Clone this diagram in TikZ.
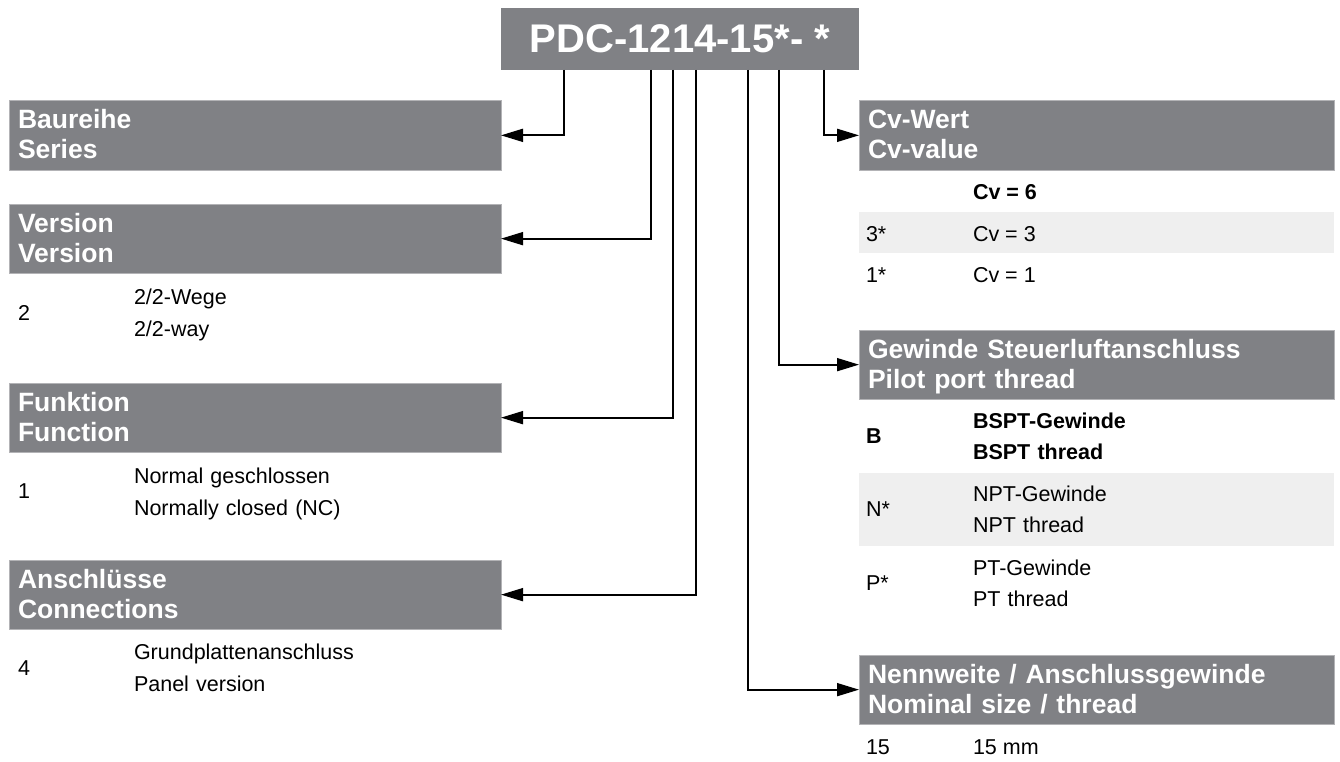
\documentclass[tikz,border=0pt]{standalone}
\usepackage{fontspec}
\setmainfont{Liberation Sans}
\usetikzlibrary{arrows.meta}

\definecolor{headgrey}{RGB}{128,129,133}
\definecolor{rowgrey}{RGB}{239,239,239}

\begin{document}
\begin{tikzpicture}[
    x=1pt, y=-1pt,
    every node/.style={inner sep=0pt, outer sep=0pt},
    title/.style={rectangle, fill=headgrey, text=white, minimum width=358pt, minimum height=62pt, anchor=north west, font=\fontsize{40}{40}\selectfont\bfseries},
    head/.style={rectangle, fill=headgrey, draw=headgrey!60!white, line width=0.8pt, anchor=north west, inner xsep=9pt, text width=#1, text height=28pt, text depth=41.3pt, align=left, text=white, font=\fontsize{26.5}{30}\selectfont\bfseries},
    code/.style={anchor=base west, font=\fontsize{21.5}{26}\selectfont},
    desc/.style={anchor=base west, text width=330pt, align=left, font=\fontsize{21.5}{#1}\selectfont},
    desc/.default=31pt,
    band/.style={fill=rowgrey},
    arrow/.style={-{Triangle[length=22pt, width=13pt]}, line width=1.7pt}
]
\useasboundingbox (0,0) rectangle (1340,762);

% Type code
\node[title] (typ) at (501,8) {PDC-1214-15*- *};

% Headers left
\node[head=474pt] (base) at (9,100.7) {Baureihe\\Series};
\node[head=474pt] (ver) at (9,204) {Version\\Version};
\node[head=474pt] (fkt) at (9,383) {Funktion\\Function};
\node[head=474pt] (ans) at (9,560) {Anschlüsse\\Connections};

% Headers right
\node[head=457pt] (cv) at (859,100.7) {Cv-Wert\\Cv-value};
\node[head=457pt] (gew) at (859,330) {Gewinde Steuerluftanschluss\\Pilot port thread};
\node[head=457pt] (nw) at (859,655) {Nennweite / Anschlussgewinde\\Nominal size / thread};

% Grey rows
\fill[band] ([yshift=-41.6pt]cv.south west) rectangle ([yshift=-83.2pt]cv.south east);
\fill[band] ([yshift=-73.5pt]gew.south west) rectangle ([yshift=-147pt]gew.south east);

% Options left
\node[code] (ver2) at ([shift={(9,47)}]ver.south west) {2};
\node[desc=32pt] (ver2d) at ([shift={(125,31)}]ver.south west) {2/2-Wege\\2/2-way};
\node[code] (fkt1) at ([shift={(9,46)}]fkt.south west) {1};
\node[desc=32pt] (fkt1d) at ([shift={(125,31)}]fkt.south west) {Normal geschlossen\\Normally closed (NC)};
\node[code] (ans4) at ([shift={(9,46)}]ans.south west) {4};
\node[desc=32pt] (ans4d) at ([shift={(125,30)}]ans.south west) {Grundplattenanschluss\\Panel version};

% Options right
\node[code] (cv6) at ([shift={(114,29.4)}]cv.south west) {\bfseries Cv = 6};
\node[code] (cv3c) at ([shift={(7,71)}]cv.south west) {3*};
\node[code] (cv3) at ([shift={(114,71)}]cv.south west) {Cv = 3};
\node[code] (cv1c) at ([shift={(7,112.5)}]cv.south west) {1*};
\node[code] (cv1) at ([shift={(114,112.5)}]cv.south west) {Cv = 1};

\node[code] (gewb) at ([shift={(7,44)}]gew.south west) {\bfseries B};
\node[desc] (gewbd) at ([shift={(114,29)}]gew.south west) {\bfseries BSPT-Gewinde\\BSPT thread};
\node[code] (gewn) at ([shift={(7,117.5)}]gew.south west) {N*};
\node[desc] (gewnd) at ([shift={(114,102.5)}]gew.south west) {NPT-Gewinde\\NPT thread};
\node[code] (gewp) at ([shift={(7,191)}]gew.south west) {P*};
\node[desc] (gewpd) at ([shift={(114,176)}]gew.south west) {PT-Gewinde\\PT thread};

\node[code] (nw15) at ([shift={(7,29.7)}]nw.south west) {15};
\node[code] (nw15d) at ([shift={(114,29.7)}]nw.south west) {15 mm};

% Arrows
\draw[arrow] ([xshift=63pt]typ.south west) |- (base.east);
\draw[arrow] ([xshift=149.7pt]typ.south west) |- (ver.east);
\draw[arrow] ([xshift=172pt]typ.south west) |- (fkt.east);
\draw[arrow] ([xshift=195pt]typ.south west) |- (ans.east);
\draw[arrow] ([xshift=247pt]typ.south west) |- (nw.west);
\draw[arrow] ([xshift=278pt]typ.south west) |- (gew.west);
\draw[arrow] ([xshift=323pt]typ.south west) |- (cv.west);

\end{tikzpicture}
\end{document}
